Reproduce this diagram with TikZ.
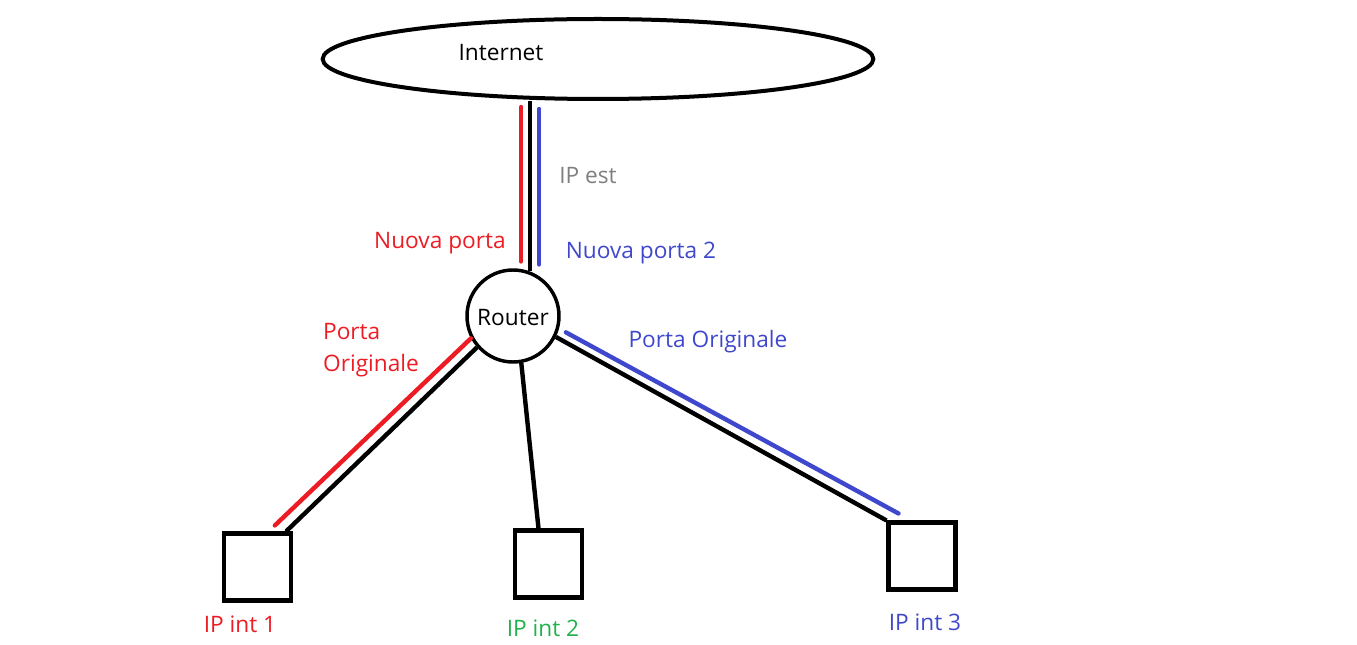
\documentclass[tikz,border=0pt]{standalone}
\usepackage{fontspec}
\setmainfont{Open Sans}
\usetikzlibrary{positioning, shapes.geometric}

\definecolor{paintred}{RGB}{237,28,36}
\definecolor{paintblue}{RGB}{63,72,204}
\definecolor{paintgreen}{RGB}{34,177,76}
\definecolor{paintgray}{RGB}{127,127,127}

\begin{document}
\begin{tikzpicture}[
      x=0.75pt, y=-0.75pt,
      node_cloud/.style={ellipse, draw, line width=3pt, minimum width=413pt, minimum height=60pt, inner sep=0pt},
      node_router/.style={circle, draw, line width=2.6pt, minimum size=69pt, inner sep=0pt},
      node_host/.style={rectangle, draw, line width=3.3pt, minimum size=50pt, inner sep=0pt},
      node_lbl/.style={inner sep=0pt, font=\fontsize{17}{24}\selectfont},
      edge_link/.style={line width=3.3pt},
      edge_port/.style={line width=3.3pt, line cap=round},
      node distance=1.5cm and 1.5cm
    ]
      \useasboundingbox (0,0) rectangle (1357,645);

      \node[node_cloud] (inet) at (598,59) {};
      \node[node_router] (router) at (513,316) {};
      \node[node_host] (host1) at (257.5,567) {};
      \node[node_host] (host2) at (548.5,564) {};
      \node[node_host] (host3) at (922,556) {};

      \node[node_lbl] (inet_lbl) at (501,53) {Internet};
      \node[node_lbl] (router_lbl) at ([yshift=-1.5pt]router) {Router};
      \node[node_lbl, paintgray] (ip_est) at (588,176) {IP est};
      \node[node_lbl, paintred] (new_port1) at (440,243) {Nuova porta};
      \node[node_lbl, paintblue] (new_port2) at (641,253) {Nuova porta 2};
      \node[node_lbl, paintred, align=left] (orig_port1) at (371,350) {Porta\\Originale};
      \node[node_lbl, paintblue] (orig_port3) at (708,342) {Porta Originale};
      \node[node_lbl, paintred] (host1_lbl) at (240,624) {IP int 1};
      \node[node_lbl, paintgreen] (host2_lbl) at (543,628) {IP int 2};
      \node[node_lbl, paintblue] (host3_lbl) at (925,622) {IP int 3};

      \coordinate (inet_port) at (router.69 |- inet.south);

      \draw[edge_link] (router.69) -- (inet_port);
      \draw[edge_port, paintred] ([shift={(-6.75pt,7.5pt)}]router.69) -- ([shift={(-6.75pt,-4.5pt)}]inet_port);
      \draw[edge_port, paintblue] ([shift={(6.75pt,5.25pt)}]router.69) -- ([shift={(6.75pt,-6pt)}]inet_port);

      \draw[edge_link] (router.221) -- ([xshift=-5.25pt]host1.north east);
      \draw[edge_port, paintred] (router.208) -- ([shift={(13pt,4.5pt)}]host1.north);
      \draw[edge_link] (router.280) -- ([xshift=-7.5pt]host2.north);
      \draw[edge_link] (router.334) -- (host3.north west);
      \draw[edge_port, paintblue] ([xshift=6pt]router.340) -- ([shift={(9pt,5.25pt)}]host3.north west);
    \end{tikzpicture}
\end{document}
